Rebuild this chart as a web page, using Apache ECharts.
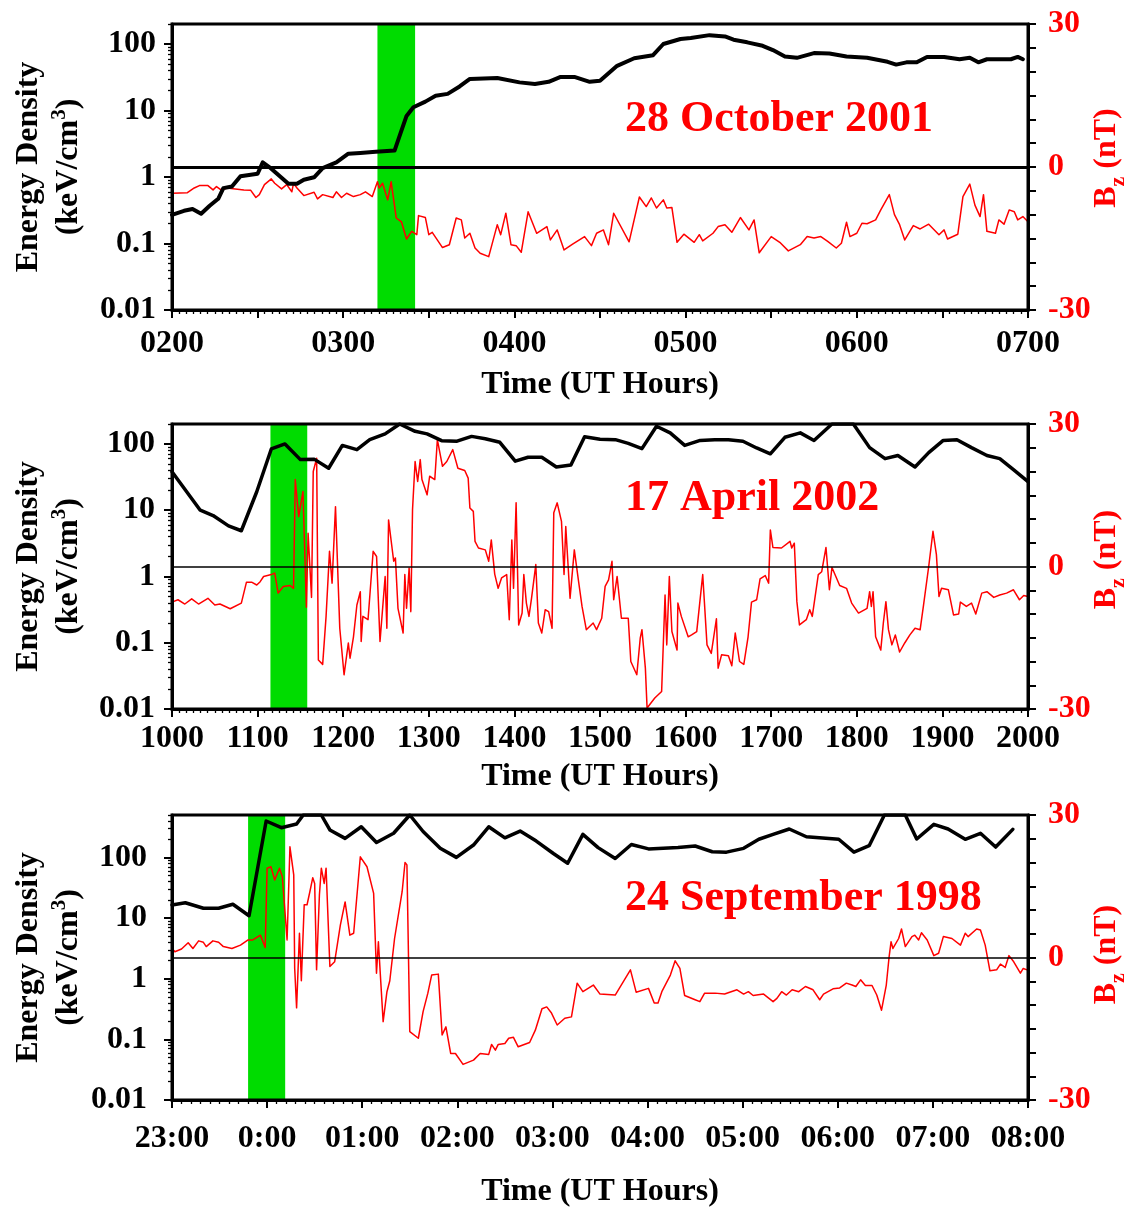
<!DOCTYPE html>
<html>
<head>
<meta charset="utf-8">
<title>Energy density and Bz</title>
<script src="https://cdn.jsdelivr.net/npm/echarts@6/dist/echarts.min.js"></script>
<style>
  html, body { margin: 0; padding: 0; background: #fff; }
  #chart { width: 1127px; height: 1209px; }
</style>
</head>
<body>
<div id="chart"></div>
<script>
// ---- 28 October 2001 (UT hours) ----
const oct2001EnergyTime = [2.00,2.07,2.12,2.17,2.22,2.27,2.30,2.35,2.40,2.50,2.53,2.57,2.68,2.73,2.77,2.83,2.88,2.96,3.03,3.10,3.19,3.30,3.33,3.37,3.41,3.48,3.54,3.61,3.68,3.74,3.90,4.03,4.12,4.20,4.27,4.35,4.44,4.50,4.60,4.70,4.81,4.87,4.97,5.03,5.14,5.23,5.28,5.36,5.45,5.51,5.58,5.65,5.75,5.84,5.94,6.06,6.18,6.23,6.29,6.35,6.41,6.51,6.60,6.66,6.71,6.76,6.90,6.94,6.97];
const oct2001Energy = [0.27,0.31,0.33,0.28,0.37,0.47,0.68,0.72,1.03,1.12,1.66,1.4,0.79,0.79,0.91,0.99,1.36,1.66,2.24,2.3,2.4,2.5,4.2,8.3,11.2,13.6,16.7,17.8,23,29.8,30.9,26.5,25,27,32,32,27,28,47,61,68,100,119,123,136,130,116,106,94,81,65,62,73,72,65,62,54,49,53,53,64,64,59,62,53,59,59,64,59];
const oct2001BzTime = [
  2.00,2.09,2.13,2.16,2.21,2.24,2.26,2.29,2.32,2.42,
  2.46,2.49,2.51,2.54,2.58,2.60,2.64,2.67,2.70,2.71,
  2.73,2.77,2.83,2.85,2.88,2.94,2.96,2.99,3.02,3.06,
  3.10,3.13,3.17,3.20,3.21,3.23,3.26,3.28,3.31,3.34,
  3.37,3.40,3.43,3.44,3.48,3.50,3.52,3.58,3.62,3.66,
  3.69,3.71,3.74,3.77,3.80,3.85,3.90,3.92,3.95,3.98,
  4.01,4.04,4.08,4.13,4.19,4.21,4.25,4.29,4.34,4.41,
  4.45,4.48,4.52,4.55,4.58,4.67,4.73,4.77,4.80,4.83,
  4.87,4.89,4.92,4.95,4.99,5.05,5.08,5.10,5.16,5.19,
  5.23,5.27,5.32,5.37,5.40,5.43,5.50,5.55,5.60,5.67,
  5.71,5.75,5.79,5.83,5.88,5.91,5.94,5.96,6.00,6.03,
  6.06,6.11,6.14,6.15,6.19,6.22,6.25,6.28,6.33,6.37,
  6.42,6.48,6.51,6.53,6.59,6.62,6.66,6.69,6.72,6.74,
  6.76,6.81,6.83,6.86,6.89,6.92,6.94,6.97,7.00];
const oct2001Bz = [
  -5.5,-5.4,-4.4,-3.9,-3.9,-4.8,-4.1,-4.9,-4.4,-4.8,
  -4.9,-6.4,-5.8,-3.7,-2.5,-3.4,-4.6,-3.7,-5.2,-3.4,
  -4.4,-6.0,-5.3,-6.7,-5.8,-6.4,-5.2,-6.4,-5.5,-6.2,
  -5.8,-5.2,-6.2,-3.1,-4.4,-3.4,-6.9,-3.1,-10.7,-11.5,
  -15.1,-13.5,-14.2,-10.2,-10.6,-14.2,-13.7,-16.9,-16.3,-10.7,
  -11.1,-14.9,-13.9,-17.0,-18.1,-18.8,-12.1,-14.2,-9.7,-16.3,
  -16.5,-17.9,-9.4,-13.9,-12.5,-15.3,-13.2,-17.4,-16.2,-14.6,
  -16.5,-13.9,-13.2,-16.3,-9.7,-15.7,-6.3,-8.3,-6.5,-8.6,
  -6.9,-8.6,-8.5,-15.8,-14.1,-15.8,-14.2,-15.5,-13.9,-12.5,
  -12.1,-13.7,-10.6,-13.2,-11.1,-18.0,-14.6,-15.8,-17.6,-16.3,
  -14.6,-14.9,-14.6,-15.6,-17.0,-16.0,-11.6,-14.6,-13.9,-11.8,
  -11.9,-11.1,-9.0,-9.0,-5.8,-10.0,-12.1,-15.3,-12.3,-13.0,
  -12.0,-14.2,-13.2,-15.1,-14.1,-6.2,-3.6,-8.0,-10.4,-5.8,
  -13.5,-13.9,-11.1,-12.0,-9.0,-9.4,-11.1,-10.4,-11.5];
const oct2001Shock = [3.20, 3.42];

// ---- 17 April 2002 (UT hours) ----
const apr2002EnergyTime = [
  10.00,10.33,10.48,10.66,10.81,10.99,11.16,11.32,11.50,11.66,
  11.83,11.99,12.16,12.31,12.49,12.66,12.84,12.98,13.15,13.33,
  13.50,13.66,13.83,14.01,14.16,14.32,14.49,14.66,14.82,15.00,
  15.18,15.33,15.49,15.66,15.82,15.99,16.17,16.34,16.50,16.67,
  16.83,16.99,17.16,17.34,17.50,17.71,17.96,18.15,18.33,18.48,
  18.68,18.84,19.01,19.17,19.34,19.52,19.67,19.83,20.00];
const apr2002Energy = [
  38,10,8.3,5.8,4.9,19,84,100,58,59,
  43,95,82,116,142,200,155,142,112,110,
  130,120,106,55,63,63,45,48,128,118,
  116,102,85,185,147,95,113,116,116,110,
  87,71,126,147,113,200,200,88,60,67,
  45,74,113,116,88,67,60,41,27];
const apr2002BzTime = [
  10.00,10.07,10.15,10.23,10.31,10.42,10.50,10.56,10.68,10.81,
  10.87,10.93,10.99,11.03,11.07,11.16,11.20,11.24,11.30,11.38,
  11.42,11.44,11.48,11.53,11.57,11.59,11.63,11.65,11.69,11.71,
  11.76,11.80,11.84,11.87,11.91,11.96,12.01,12.06,12.08,12.12,
  12.16,12.20,12.21,12.23,12.29,12.35,12.39,12.43,12.49,12.51,
  12.53,12.59,12.61,12.64,12.70,12.72,12.74,12.77,12.79,12.81,
  12.84,12.87,12.90,12.92,12.98,13.01,13.07,13.10,13.16,13.21,
  13.28,13.34,13.42,13.46,13.48,13.52,13.54,13.58,13.66,13.70,
  13.73,13.77,13.81,13.85,13.91,13.94,13.97,13.99,14.02,14.05,
  14.09,14.11,14.14,14.17,14.20,14.25,14.28,14.32,14.36,14.40,
  14.44,14.46,14.50,14.55,14.58,14.60,14.65,14.70,14.75,14.79,
  14.84,14.92,14.96,15.02,15.06,15.10,15.14,15.16,15.20,15.25,
  15.33,15.36,15.43,15.47,15.49,15.53,15.55,15.64,15.72,15.76,
  15.78,15.81,15.84,15.90,15.91,15.95,16.03,16.07,16.13,16.20,
  16.25,16.30,16.36,16.38,16.42,16.50,16.54,16.58,16.63,16.68,
  16.73,16.77,16.83,16.87,16.93,16.97,16.99,17.02,17.12,17.22,
  17.24,17.27,17.30,17.33,17.41,17.45,17.48,17.55,17.59,17.64,
  17.68,17.71,17.75,17.80,17.88,17.94,18.02,18.12,18.15,18.17,
  18.19,18.22,18.28,18.31,18.34,18.37,18.41,18.45,18.50,18.56,
  18.62,18.68,18.74,18.78,18.84,18.89,18.93,18.96,18.99,19.07,
  19.13,19.19,19.21,19.28,19.34,19.39,19.46,19.52,19.60,19.67,
  19.75,19.83,19.90,19.95,20.00];
const apr2002Bz = [
  -7.5,-7.0,-7.9,-6.8,-7.9,-6.7,-8.1,-7.9,-8.9,-7.7,
  -3.3,-3.3,-3.9,-3.2,-2.1,-1.7,-1.4,-5.6,-4.2,-4.0,
  -4.6,18.3,10.5,15.8,-8.6,7.0,-6.5,20.0,22.8,-19.7,
  -20.6,-10.5,3.2,-3.5,12.6,-13.0,-22.8,-16.1,-19.3,-14.8,
  -8.1,-5.3,-15.8,-10.5,-11.2,3.2,2.1,-15.8,-2.1,-13.0,
  9.8,1.1,1.8,-8.8,-14.0,-1.7,-8.8,-0.3,-9.5,12.0,
  22.1,17.9,22.5,18.3,15.1,19.0,18.3,26.7,21.1,22.1,
  24.6,20.7,20.2,18.6,12.3,11.6,5.3,3.9,3.5,1.1,
  5.6,-1.6,-4.6,-2.4,-1.7,-11.2,5.6,-4.6,13.4,-12.3,
  -9.8,-1.7,-7.7,-10.5,-6.7,0.4,-11.9,-14.0,-9.1,-9.5,
  -13.0,11.3,13.4,9.5,-1.7,8.4,-6.7,3.5,-3.2,-8.4,
  -13.3,-11.9,-13.3,-10.9,-4.2,-2.8,1.1,-7.0,-2.1,-10.9,
  -10.9,-20.0,-22.8,-15.1,-13.3,-21.4,-29.8,-27.7,-26.3,-6.0,
  -16.5,-2.1,-13.7,-17.6,-7.7,-10.5,-14.8,-14.4,-13.7,-1.7,
  -16.5,-18.3,-11.0,-21.4,-18.6,-18.8,-20.9,-14.0,-20.0,-20.6,
  -14.8,-7.5,-7.0,-2.6,-1.9,-3.5,7.7,4.0,3.9,5.3,
  3.9,4.9,-7.4,-12.3,-11.2,-9.1,-10.5,-1.7,-1.1,4.0,
  -4.9,-0.2,-1.9,-4.0,-4.6,-7.7,-9.8,-8.8,-5.3,-8.4,
  -5.3,-14.8,-17.6,-11.9,-7.4,-13.3,-16.5,-14.4,-18.0,-16.1,
  -14.4,-13.0,-13.3,-8.1,0,7.4,2.5,-6.3,-4.6,-4.9,
  -10.2,-10.0,-7.5,-8.4,-7.7,-10.0,-5.6,-5.3,-6.5,-6.0,
  -5.6,-4.9,-7.0,-6.1,-6.3];
const apr2002Shock = [11.15, 11.58];

// ---- 24 September 1998 (hours from 23:00 on the 23rd; 24 = 0:00) ----
const sep1998EnergyTime = [
  23.00,23.14,23.33,23.49,23.64,23.81,23.99,24.15,24.31,24.38,
  24.57,24.66,24.82,24.99,25.15,25.33,25.50,25.64,25.82,25.99,
  26.17,26.33,26.50,26.66,26.83,27.01,27.16,27.32,27.48,27.66,
  27.83,28.01,28.32,28.50,28.68,28.83,29.01,29.17,29.32,29.49,
  29.67,30.01,30.17,30.33,30.49,30.71,30.83,31.01,31.16,31.34,
  31.50,31.66,31.84];
const sep1998Energy = [
  16.4,17.9,14.5,14.5,16.9,10.9,398,309,356,500,
  500,283,206,320,176,250,500,267,142,100,
  160,320,210,272,186,116,80,240,145,96,
  163,138,145,154,124,122,141,199,240,294,
  219,199,122,156,500,500,201,351,294,199,
  250,148,290];
const sep1998BzTime = [
  23.00,23.03,23.10,23.17,23.22,23.28,23.33,23.36,23.43,23.49,
  23.54,23.63,23.72,23.80,23.85,23.93,23.98,24.00,24.04,24.08,
  24.13,24.16,24.21,24.24,24.28,24.29,24.31,24.34,24.36,24.39,
  24.42,24.45,24.48,24.50,24.52,24.55,24.57,24.60,24.62,24.66,
  24.71,24.77,24.82,24.87,24.91,24.98,25.05,25.12,25.15,25.17,
  25.22,25.26,25.29,25.34,25.42,25.45,25.47,25.50,25.59,25.64,
  25.69,25.73,25.80,25.84,25.88,25.93,25.98,26.06,26.17,26.24,
  26.33,26.36,26.40,26.43,26.50,26.54,26.59,26.64,26.76,26.82,
  26.89,26.94,26.99,27.05,27.13,27.20,27.26,27.32,27.43,27.50,
  27.66,27.82,27.88,28.01,28.07,28.11,28.15,28.24,28.29,28.34,
  28.39,28.50,28.55,28.60,28.71,28.81,28.94,29.01,29.06,29.11,
  29.22,29.27,29.32,29.36,29.41,29.46,29.52,29.59,29.66,29.74,
  29.81,29.85,29.95,30.02,30.09,30.15,30.19,30.24,30.29,30.36,
  30.41,30.46,30.51,30.54,30.56,30.58,30.64,30.67,30.71,30.78,
  30.81,30.85,30.88,30.94,30.95,31.01,31.06,31.11,31.20,31.29,
  31.34,31.37,31.46,31.50,31.55,31.60,31.67,31.71,31.76,31.80,
  31.85,31.92,31.95,31.99];
const sep1998Bz = [
  1.9,1.2,1.8,3.1,1.9,3.5,3.2,2.3,3.5,3.2,
  2.3,1.9,2.6,3.7,3.7,4.7,2.1,18.8,19.1,16.3,
  18.8,17.0,3.7,23.3,17.4,-2.3,-10.6,5.1,-4.9,11.1,
  11.1,13.9,16.8,15.6,-2.6,13.2,18.8,15.6,18.8,-1.9,
  -0.9,6.8,11.7,4.7,5.1,21.2,19.1,13.5,-3.3,3.3,
  -13.5,-7.2,-4.9,4.0,13.9,20.0,19.5,-15.6,-17.0,-11.4,
  -7.5,-3.7,-3.5,-16.3,-14.6,-20.2,-20.2,-22.5,-21.6,-20.2,
  -20.4,-18.3,-19.5,-18.3,-18.1,-17.0,-16.8,-18.8,-17.9,-15.3,
  -10.8,-10.4,-11.7,-14.2,-12.8,-12.5,-5.4,-7.2,-5.8,-7.7,
  -7.9,-2.6,-7.3,-6.5,-9.6,-9.6,-7.2,-3.7,-0.7,-2.3,
  -8.0,-8.9,-9.3,-7.5,-7.5,-7.7,-6.8,-7.7,-7.2,-8.0,
  -7.7,-8.5,-9.3,-8.6,-7.2,-7.9,-6.8,-7.2,-6.1,-6.8,
  -8.9,-7.7,-6.6,-6.4,-5.4,-5.8,-6.1,-4.7,-5.9,-5.9,
  -7.9,-11.1,-5.8,0.2,3.3,1.9,4.0,6.0,2.3,4.4,
  4.7,3.7,5.2,3.7,4.0,0.4,0.9,4.4,4.0,2.6,
  5.1,4.4,6.0,5.8,2.6,-2.8,-2.6,-1.4,-2.1,0.4,
  -0.9,-3.3,-2.3,-2.6];
const sep1998Shock = [23.80, 24.19];

// ---- axis ticks and labels ----
const energyDecades = [0.01, 0.1, 1, 10, 100];
const bzLabelValues = [-30, 0, 30];
const eventTitles = ['28 October 2001', '17 April 2002', '24 September 1998'];

const SERIF = '"Liberation Serif", "Times New Roman", Times, serif';
const RED = '#ff0000';

function zip(xs, ys) {
  const n = Math.min(xs.length, ys.length);
  const out = [];
  for (let i = 0; i < n; i++) out.push([xs[i], ys[i]]);
  return out;
}
function logMinorTicks(max) {
  const ticks = [];
  energyDecades.forEach(d => {
    for (let k = 2; k <= 9; k++) {
      const v = +(d * k).toPrecision(6);
      if (v <= max) ticks.push(v);
    }
  });
  return ticks;
}
function isWhole(v) { return Math.abs(v - Math.round(v)) < 1e-6; }
function pad2(n) { return (n < 10 ? '0' : '') + n; }

const fmtHHMM = v => isWhole(v) ? pad2(Math.round(v)) + '00' : '';
const fmtClock = v => {
  if (!isWhole(v)) return '';
  const h = Math.round(v) % 24;
  return h === 0 ? '0:00' : pad2(h) + ':00';
};

const panels = [
  { title: eventTitles[0], eTime: oct2001EnergyTime, e: oct2001Energy, bTime: oct2001BzTime, b: oct2001Bz,
    shock: oct2001Shock, xMin: 2, xMax: 7, xInterval: 0.5, minorSplit: 12, fmt: fmtHHMM, eMax: 200,
    top: 24, height: 286, zeroWidth: 3, eWidth: 4, xLabelMargin: 18, xNameGap: 59, yLabelMargin: 16,
    bzNamePad: 18, titleY: 120 },
  { title: eventTitles[1], eTime: apr2002EnergyTime, e: apr2002Energy, bTime: apr2002BzTime, b: apr2002Bz,
    shock: apr2002Shock, xMin: 10, xMax: 20, xInterval: 1, minorSplit: 12, fmt: v => isWhole(v) ? Math.round(v) + '00' : '',
    eMax: 200, top: 424, height: 285, zeroWidth: 1.6, eWidth: 3.5, xLabelMargin: 14, xNameGap: 52, yLabelMargin: 17,
    bzNamePad: 14, titleY: 499 },
  { title: eventTitles[2], eTime: sep1998EnergyTime, e: sep1998Energy, bTime: sep1998BzTime, b: sep1998Bz,
    shock: sep1998Shock, xMin: 23, xMax: 32, xInterval: 1, minorSplit: 10, fmt: fmtClock, eMax: 500,
    top: 815, height: 285, zeroWidth: 1.6, eWidth: 3.5, xLabelMargin: 23, xNameGap: 76, yLabelMargin: 25,
    bzNamePad: 6, titleY: 899 }
];

const boldText = (size, color) => ({ fontFamily: SERIF, fontWeight: 'bold', fontSize: size, color: color });

const grid = [], xAxis = [], yAxis = [], series = [], graphic = [];

panels.forEach((p, i) => {
  grid.push({ left: 172, width: 856, top: p.top, height: p.height, show: true,
    containLabel: false, outerBoundsMode: 'none',
    borderColor: '#000', borderWidth: 3, backgroundColor: 'transparent', z: 6 });

  xAxis.push({
    gridIndex: i, type: 'value', position: 'bottom', min: p.xMin, max: p.xMax, interval: p.xInterval, z: 6,
    axisLine: { onZero: false, lineStyle: { color: '#000', width: 3 } },
    axisTick: { inside: false, length: 8, lineStyle: { color: '#000', width: 2 } },
    minorTick: { show: true, splitNumber: p.minorSplit, length: 4, lineStyle: { color: '#000', width: 1.3 } },
    splitLine: { show: false },
    axisLabel: Object.assign({ formatter: p.fmt, margin: p.xLabelMargin }, boldText(32, '#000')),
    name: 'Time (UT Hours)', nameLocation: 'middle', nameGap: p.xNameGap, nameMoveOverlap: false,
    nameTextStyle: boldText(32, '#000')
  });

  const yBase = yAxis.length;
  // energy density (log), decade ticks and labels
  yAxis.push({
    gridIndex: i, type: 'log', logBase: 10, min: 0.01, max: p.eMax, position: 'left', z: 6,
    axisLine: { onZero: false, lineStyle: { color: '#000', width: 3 } },
    axisTick: { inside: false, length: 8, customValues: energyDecades, lineStyle: { color: '#000', width: 2 } },
    axisLabel: Object.assign({ customValues: energyDecades, margin: p.yLabelMargin,
      formatter: v => String(+Number(v).toPrecision(6)) }, boldText(32, '#000')),
    splitLine: { show: false },
    name: '{m|Energy Density}\n{m|(keV/cm}{sup|3}{m|)}',
    nameLocation: 'middle', nameRotate: 90, nameGap: 83, nameMoveOverlap: false,
    nameTextStyle: Object.assign({ lineHeight: 40, rich: {
      m: Object.assign({ lineHeight: 40 }, boldText(32, '#000')),
      sup: Object.assign({ lineHeight: 26, verticalAlign: 'top' }, boldText(21, '#000'))
    } }, boldText(32, '#000'))
  });
  // energy density minor ticks (2..9 in each decade)
  yAxis.push({
    gridIndex: i, type: 'log', logBase: 10, min: 0.01, max: p.eMax, position: 'left', z: 6,
    axisLine: { show: false, onZero: false },
    axisTick: { inside: false, length: 4, customValues: logMinorTicks(p.eMax), lineStyle: { color: '#000', width: 1.3 } },
    axisLabel: { show: false },
    splitLine: { show: false }
  });
  // Bz (nT)
  yAxis.push({
    gridIndex: i, type: 'value', min: -30, max: 30, interval: 5, position: 'right', z: 6,
    axisLine: { onZero: false, lineStyle: { color: '#000', width: 3 } },
    axisTick: { inside: false, length: 8, lineStyle: { color: '#000', width: 2 } },
    axisLabel: Object.assign({ margin: 20,
      formatter: v => bzLabelValues.indexOf(Math.round(v)) >= 0 && isWhole(v) ? String(Math.round(v)) : '' },
      boldText(32, RED)),
    splitLine: { show: false },
    name: '{m|B}{sub|z}{m| (nT)}',
    nameLocation: 'middle', nameRotate: 90, nameGap: 63, nameMoveOverlap: false,
    nameTextStyle: Object.assign({ padding: [0, 0, 0, p.bzNamePad], rich: {
      m: Object.assign({ lineHeight: 32, verticalAlign: 'top' }, boldText(32, RED)),
      sub: Object.assign({ lineHeight: 38, verticalAlign: 'bottom' }, boldText(22, RED))
    } }, boldText(32, RED))
  });

  series.push({
    name: 'Bz ' + p.title, type: 'line', xAxisIndex: i, yAxisIndex: yBase + 2,
    data: zip(p.bTime, p.b), showSymbol: false, symbol: 'none', z: 2,
    lineStyle: { color: RED, width: 1.5, join: 'round' },
    markArea: { silent: true, itemStyle: { color: '#00dc00', opacity: 1 },
      data: [[{ xAxis: p.shock[0] }, { xAxis: p.shock[1] }]] },
    markLine: { silent: true, symbol: ['none', 'none'], label: { show: false },
      lineStyle: { color: '#000', width: p.zeroWidth, type: 'solid' }, data: [{ yAxis: 0 }] }
  });
  series.push({
    name: 'Energy density ' + p.title, type: 'line', xAxisIndex: i, yAxisIndex: yBase,
    data: zip(p.eTime, p.e), showSymbol: false, symbol: 'none', z: 3,
    lineStyle: { color: '#000', width: p.eWidth, join: 'round', cap: 'round' }
  });

  graphic.push({
    type: 'text', x: 625, y: p.titleY, z: 10,
    style: { text: p.title, fill: RED, font: 'bold 44px ' + SERIF, verticalAlign: 'middle', align: 'left' }
  });
});

const chart = echarts.init(document.getElementById('chart'), null, { renderer: 'canvas' });
chart.setOption({
  animation: false,
  backgroundColor: '#fff',
  grid, xAxis, yAxis, series, graphic
});
</script>
</body>
</html>
